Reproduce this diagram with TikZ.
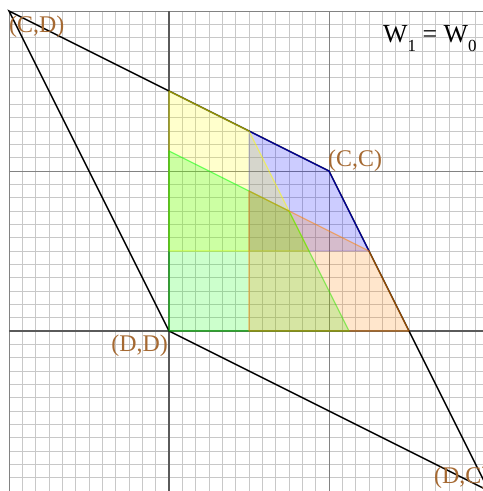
\documentclass[tikz,border=0pt]{standalone}
\usepackage{fontspec}
\setmainfont{Liberation Serif}
\definecolor{labbrown}{RGB}{165,105,50}
\definecolor{finegray}{RGB}{200,200,200}
\definecolor{unitgray}{RGB}{130,130,130}
\definecolor{axisgray}{RGB}{90,90,90}
\definecolor{setblue}{RGB}{0,0,255}
\definecolor{setyellow}{RGB}{255,255,0}
\definecolor{setgreen}{RGB}{0,255,0}
\definecolor{setorange}{RGB}{255,128,0}
\tikzset{
  fineline/.style={draw=finegray, line width=0.7bp},
  unitline/.style={draw=unitgray, line width=0.9bp},
  axisline/.style={draw=axisgray, line width=1.1bp},
  hull/.style={draw=black, line width=1.4bp, line join=miter},
  setpoly/.style={fill=#1, fill opacity=0.2, draw=#1, draw opacity=0.5, line width=1.2bp, line join=round},
  setfill/.style={fill=#1, fill opacity=0.2},
  setedge/.style={draw=#1, draw opacity=0.5, line width=1.2bp, line join=round},
  paylabel/.style={text=labbrown, inner sep=0pt, font=\fontsize{24}{28}\selectfont},
  titlelabel/.style={text=black, inner sep=0pt, font=\fontsize{26}{30}\selectfont}
}
\begin{document}
\begin{tikzpicture}[x=160bp,y=160bp]
\useasboundingbox (-1.05625,-1) rectangle (1.9625,2.06875);
\begin{scope}
\clip (-1.05625,-1) rectangle (1.9625,2.06875);
% fine grid
\foreach \i in {-12,...,36} {
  \draw[fineline] (\i/12,-1) -- (\i/12,2);
  \draw[fineline] (-1,\i/12) -- (2,\i/12);
}
% unit lines
\foreach \i in {-1,1,2} {
  \draw[unitline] (\i,-1) -- (\i,2);
  \draw[unitline] (-1,\i) -- (2,\i);
}
% axes
\draw[axisline] (0,-1) -- (0,2);
\draw[axisline] (-1,0) -- (2,0);
% payoff points
\coordinate (CD) at (-1,2);
\coordinate (CC) at (1,1);
\coordinate (DC) at (2,-1);
\coordinate (DD) at (0,0);
% feasible hull
\draw[hull] (CD) -- (CC) -- (DC) -- (DD) -- cycle;
% sets
\fill[setfill=setblue] (0.5,0.5) -- (0.5,1.25) -- (1,1) -- (1.25,0.5) -- cycle;
\draw[setedge=setblue, draw opacity=0.12] (1.25,0.5) -- (0.5,0.5) -- (0.5,1.25);
\draw[setedge=setblue] (0.5,1.25) -- (1,1) -- (1.25,0.5);
\draw[setpoly=setyellow] (0,0.5) -- (0,1.5) -- (0.5,1.25) -- (0.875,0.5) -- cycle;
\draw[setpoly=setgreen] (0,0) -- (0,1.125) -- (0.75,0.75) -- (1.125,0) -- cycle;
\draw[setpoly=setorange] (0.5,0) -- (1.5,0) -- (1.25,0.5) -- (0.5,0.875) -- cycle;
% labels
\node[paylabel, anchor=base west] (lCD) at (-1.0,1.8625) {(C,D)};
\node[paylabel, anchor=base west] (lCC) at (0.994,1.031) {(C,C)};
\node[paylabel, anchor=base east] (lDD) at (-0.006,-0.131) {(D,D)};
\node[paylabel, anchor=base west] (lDC) at (1.656,-0.95) {(D,C)};
\node[titlelabel, anchor=base west] (title) at (1.3375,1.8) {W\raisebox{-9bp}{\fontsize{17}{17}\selectfont 1} = W\raisebox{-9bp}{\fontsize{17}{17}\selectfont 0}};
\end{scope}
\end{tikzpicture}
\end{document}
